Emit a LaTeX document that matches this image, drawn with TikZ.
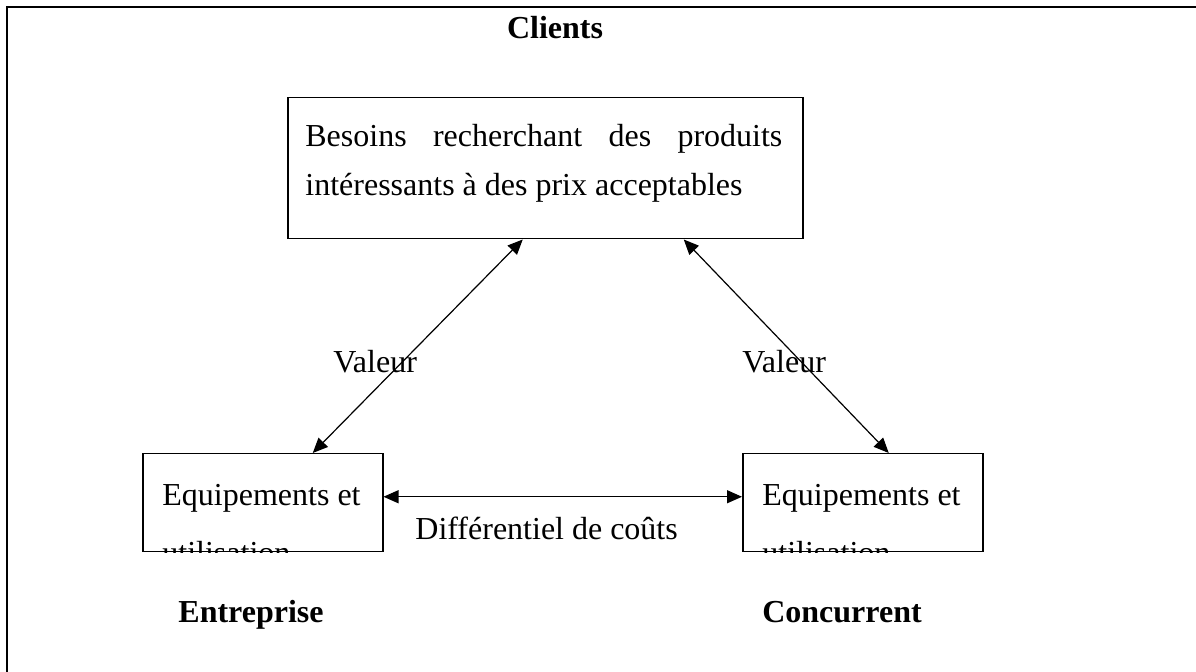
\documentclass[tikz,border=0pt]{standalone}
\usepackage{fontspec}
\setmainfont{Liberation Serif}
\usetikzlibrary{arrows.meta,calc}
\tikzset{
  box/.style={draw, line width=0.75pt, inner sep=0pt},
  txt/.style={inner sep=0pt, font=\fontsize{16}{24}\selectfont},
  btxt/.style={inner sep=0pt, font=\fontsize{16}{24}\selectfont\bfseries},
  dbl/.style={line width=0.6pt, {Triangle[length=7.5pt,width=6.5pt]}-{Triangle[length=7.5pt,width=6.5pt]}}
}
\begin{document}
\begin{tikzpicture}[x=0.5pt,y=-0.5pt]
\useasboundingbox (0,0) rectangle (1196,672);
% frame (only top and left edges are visible)
\draw[line width=1pt] (7,680) -- (7,7) -- (1200,7);
% title
\node[btxt, anchor=base] (clients) at (555,39) {Clients};
% top box
\node[box, minimum width=257.5pt, minimum height=70.5pt, anchor=north west] (besoins) at (287,97) {};
\node[txt, anchor=base west] (bl1) at (305,147) {\makebox[238.5pt][s]{Besoins\hfill recherchant\hfill des\hfill produits}};
\node[txt, anchor=base west] (bl2) at (305,196) {intéressants à des prix acceptables};
% bottom boxes
\node[box, minimum width=120pt, minimum height=49pt, anchor=north west] (ent) at (142,453) {};
\node[box, minimum width=120pt, minimum height=49pt, anchor=north west] (conc) at (742,453) {};
\begin{scope}
  \clip (ent.north west) rectangle (ent.south east);
  \node[txt, anchor=base west] (e1) at (162,506) {Equipements et};
  \node[txt, anchor=base west] (e2) at (162,564) {utilisation};
\end{scope}
\begin{scope}
  \clip (conc.north west) rectangle (conc.south east);
  \node[txt, anchor=base west] (c1) at (762,506) {Equipements et};
  \node[txt, anchor=base west] (c2) at (762,564) {utilisation};
\end{scope}
% labels under boxes
\node[btxt, anchor=base] (entl) at (251,623) {Entreprise};
\node[btxt, anchor=base] (concl) at (842,623) {Concurrent};
% connectors
\draw[dbl] ($(besoins.south)+(-22.5,0)$) -- ($(ent.north)+(50,0)$);
\draw[dbl] ($(besoins.south)+(138.5,0)$) -- ($(conc.north)+(26,0)$);
\draw[dbl] ($(ent.east)+(0,-6)$) -- ($(conc.west)+(0,-6)$);
% connector labels
\node[txt, anchor=base west] (v1) at (333,373) {Valeur};
\node[txt, anchor=base west] (v2) at (742,373) {Valeur};
\node[txt, anchor=base west] (diff) at (415,540) {Différentiel de coûts};
\end{tikzpicture}
\end{document}
